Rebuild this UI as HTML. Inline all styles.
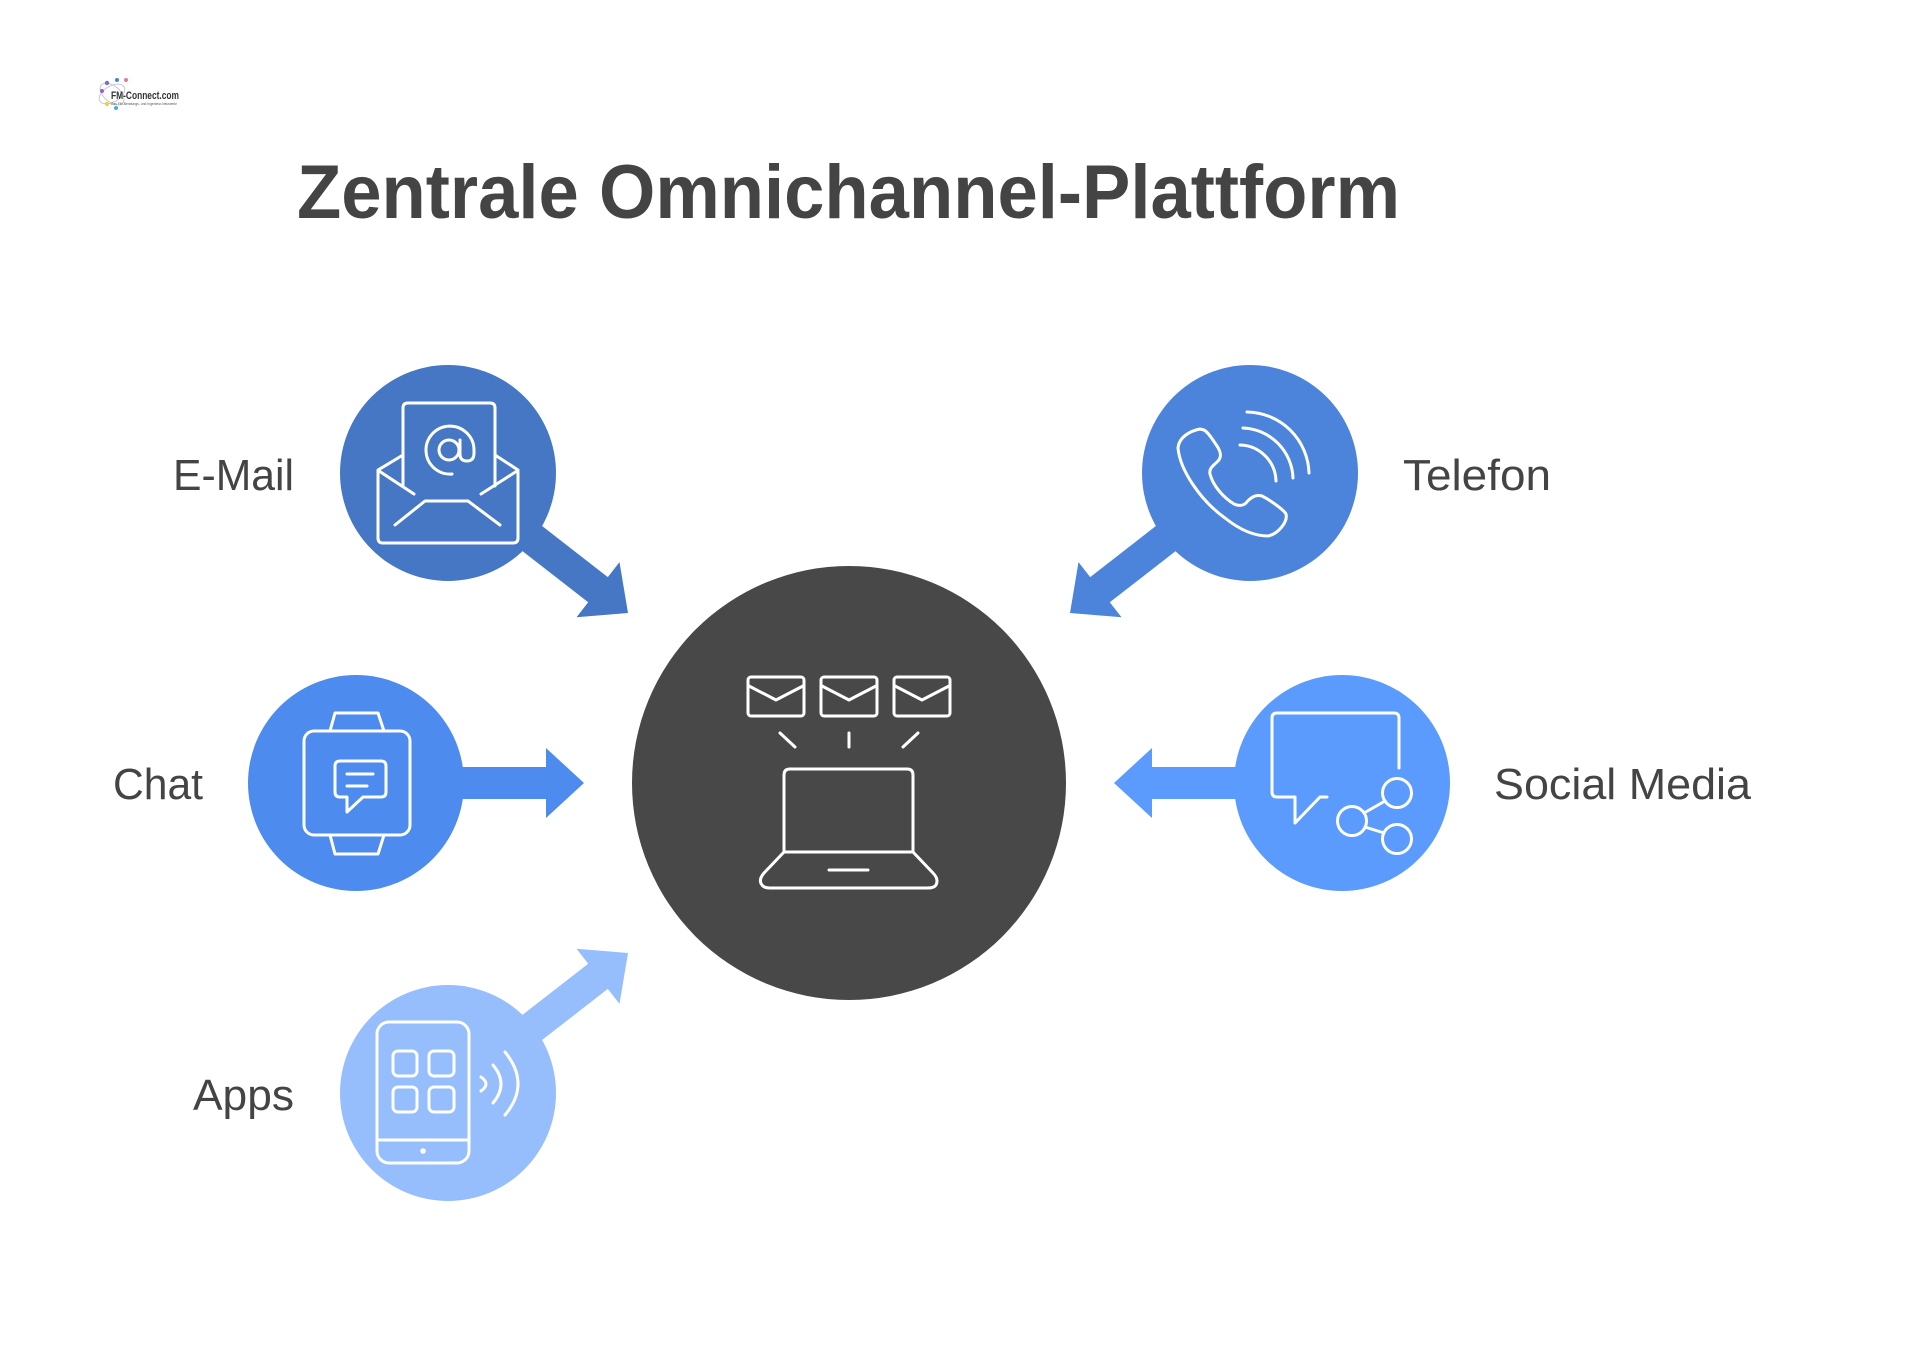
<!DOCTYPE html>
<html>
<head>
<meta charset="utf-8">
<style>
  html, body { margin: 0; padding: 0; background: #ffffff; }
  body { width: 1920px; height: 1348px; overflow: hidden; }
  svg { display: block; }
  .lbl { font-family: "Liberation Sans", Arial, sans-serif; font-size: 44px; fill: #444444; }
  .ic { fill: none; stroke: #ffffff; stroke-width: 3; stroke-linecap: round; stroke-linejoin: round; }
</style>
</head>
<body>
<svg width="1920" height="1348" viewBox="0 0 1920 1348" xmlns="http://www.w3.org/2000/svg">
  <rect x="0" y="0" width="1920" height="1348" fill="#ffffff"/>

  <!-- Logo -->
  <g>
    <ellipse cx="112" cy="94" rx="14" ry="8" fill="none" stroke="#c8c8d0" stroke-width="1" transform="rotate(-30 112 94)"/>
    <ellipse cx="112" cy="94" rx="14" ry="8" fill="none" stroke="#c8c8d0" stroke-width="1" transform="rotate(40 112 94)"/>
    <circle cx="107" cy="83" r="2.2" fill="#7a6fd0"/>
    <circle cx="117" cy="80" r="2" fill="#4a7fe0"/>
    <circle cx="126" cy="80" r="2" fill="#e07aa0"/>
    <circle cx="102" cy="91" r="2" fill="#9a5fd0"/>
    <circle cx="107" cy="104" r="2" fill="#e8d040"/>
    <circle cx="116" cy="108" r="2" fill="#40b0e0"/>
    <text x="111" y="99" font-family="Liberation Sans, Arial, sans-serif" font-size="11" font-weight="bold" fill="#333" textLength="68" lengthAdjust="spacingAndGlyphs">FM-Connect.com</text>
    <text x="111" y="105" font-family="Liberation Sans, Arial, sans-serif" font-size="4" fill="#555" textLength="66" lengthAdjust="spacingAndGlyphs">Das FM-Beratungs- und Ingenieur-Netzwerk!</text>
  </g>

  <!-- Title -->
  <text x="297" y="218" font-family="Liberation Sans, Arial, sans-serif" font-size="76" font-weight="bold" fill="#444444" textLength="1103" lengthAdjust="spacingAndGlyphs">Zentrale Omnichannel-Plattform</text>

  <!-- Arrows -->
  <polygon fill="#4677c4" points="457.8,460.4 607.8,577.1 619.5,562.1 628,613 576.5,617.3 588.2,602.3 438.2,485.6"/>
  <polygon fill="#4d84db" points="1240.2,460.4 1090.2,577.1 1078.5,562.1 1070,613 1121.5,617.3 1109.8,602.3 1259.8,485.6"/>
  <polygon fill="#96bdfc" points="457.8,1105.6 607.8,988.9 619.5,1003.9 628,953 576.5,948.7 588.2,963.7 438.2,1080.4"/>
  <polygon fill="#4d8bef" points="356,767 546,767 546,748 584,783 546,818 546,799 356,799"/>
  <polygon fill="#5b9bfd" points="1342,767 1152,767 1152,748 1114,783 1152,818 1152,799 1342,799"/>

  <!-- Circles -->
  <circle cx="448" cy="473" r="108" fill="#4677c4"/>
  <circle cx="1250" cy="473" r="108" fill="#4d84db"/>
  <circle cx="356" cy="783" r="108" fill="#4d8bef"/>
  <circle cx="1342" cy="783" r="108" fill="#5b9bfd"/>
  <circle cx="448" cy="1093" r="108" fill="#96bdfc"/>
  <circle cx="849" cy="783" r="217" fill="#484848"/>

  <!-- Labels -->
  <text class="lbl" x="173" y="490" textLength="121" lengthAdjust="spacingAndGlyphs">E-Mail</text>
  <text class="lbl" x="1403" y="490" textLength="148" lengthAdjust="spacingAndGlyphs">Telefon</text>
  <text class="lbl" x="113" y="799" textLength="90" lengthAdjust="spacingAndGlyphs">Chat</text>
  <text class="lbl" x="1494" y="799" textLength="257" lengthAdjust="spacingAndGlyphs">Social Media</text>
  <text class="lbl" x="193" y="1110" textLength="101" lengthAdjust="spacingAndGlyphs">Apps</text>

  <!-- E-Mail icon -->
  <g class="ic">
    <path d="M 403 486 L 403 408 Q 403 403 408 403 L 490 403 Q 495 403 495 408 L 495 486"/>
    <path d="M 403 455 L 378 470 L 378 538 Q 378 543 383 543 L 513 543 Q 518 543 518 538 L 518 470 L 495 455"/>
    <path d="M 379 471 L 414 494"/>
    <path d="M 517 471 L 481 494"/>
    <path d="M 395 525 L 425 501 L 468 501 L 500 525"/>
    <path d="M 452 474 A 24 24 0 1 1 474 450 L 474 453 Q 474 461 467 461 Q 460 461 460 454 L 460 440"/>
    <circle cx="449" cy="450" r="10"/>
  </g>

  <!-- Telefon icon -->
  <g class="ic">
    <path d="M 1200 429 C 1190 431 1179 437 1178 448 C 1180 470 1200 500 1225 518 C 1240 530 1255 536 1268 536 C 1278 534 1288 522 1286 514 C 1284 510 1270 500 1262 496 C 1255 494 1250 498 1246 503 C 1243 506 1238 506 1234 504 C 1224 498 1213 486 1210 474 C 1209 468 1213 466 1217 462 C 1222 458 1221 452 1217 446 C 1213 440 1208 432 1204 430 Z"/>
    <path d="M 1240 445 A 37 37 0 0 1 1276 481"/>
    <path d="M 1243 428 A 52 52 0 0 1 1293 478"/>
    <path d="M 1247 412 A 63 63 0 0 1 1309 473"/>
  </g>

  <!-- Chat icon (smartwatch) -->
  <g class="ic">
    <rect x="304" y="731" width="106" height="104" rx="10"/>
    <path d="M 330 731 L 335 713 L 378 713 L 384 731"/>
    <path d="M 330 835 L 335 854 L 378 854 L 384 835"/>
    <path d="M 340 761 L 381 761 Q 386 761 386 766 L 386 792 Q 386 797 381 797 L 363 797 L 347 812 L 347 797 L 340 797 Q 335 797 335 792 L 335 766 Q 335 761 340 761 Z"/>
    <path d="M 347 774 L 373 774"/>
    <path d="M 347 786 L 367 786"/>
  </g>

  <!-- Social Media icon -->
  <g class="ic">
    <path d="M 1399 768 L 1399 718 Q 1399 713 1394 713 L 1277 713 Q 1272 713 1272 718 L 1272 792 Q 1272 797 1277 797 L 1295 797 L 1295 823 L 1320 797 L 1327 797"/>
    <circle cx="1397" cy="793" r="14.5"/>
    <circle cx="1352" cy="821" r="14.5"/>
    <circle cx="1397" cy="839" r="14.5"/>
    <path d="M 1364 813 L 1385 801"/>
    <path d="M 1365 827 L 1384 833"/>
  </g>

  <!-- Apps icon -->
  <g class="ic">
    <rect x="377" y="1022" width="92" height="141" rx="12"/>
    <path d="M 377 1140 L 469 1140"/>
    <rect x="393" y="1051" width="24" height="25" rx="5"/>
    <rect x="429" y="1051" width="25" height="25" rx="5"/>
    <rect x="393" y="1087" width="24" height="25" rx="5"/>
    <rect x="429" y="1087" width="25" height="25" rx="5"/>
    <path d="M 481 1077 Q 491 1084 481 1091"/>
    <path d="M 493 1065 Q 509 1084 493 1103"/>
    <path d="M 505 1052 Q 531 1084 505 1115"/>
  </g>
  <circle cx="423" cy="1151" r="2.8" fill="#ffffff"/>

  <!-- Central icon -->
  <g class="ic">
    <rect x="748" y="677" width="56" height="39" rx="3"/>
    <path d="M 749 686 L 776 700 L 803 686"/>
    <rect x="821" y="677" width="56" height="39" rx="3"/>
    <path d="M 822 686 L 849 700 L 876 686"/>
    <rect x="894" y="677" width="56" height="39" rx="3"/>
    <path d="M 895 686 L 922 700 L 949 686"/>
    <path d="M 780 733 L 795 747"/>
    <path d="M 849 733 L 849 747"/>
    <path d="M 918 733 L 903 747"/>
    <path d="M 784 852 L 784 775 Q 784 769 790 769 L 907 769 Q 913 769 913 775 L 913 852 Z"/>
    <path d="M 784 852 L 764 873 Q 758 880 762 885 Q 764 888 770 888 L 928 888 Q 934 888 936 885 Q 939 879 933 873 L 913 852"/>
    <path d="M 829 870 L 868 870"/>
  </g>
</svg>
</body>
</html>
